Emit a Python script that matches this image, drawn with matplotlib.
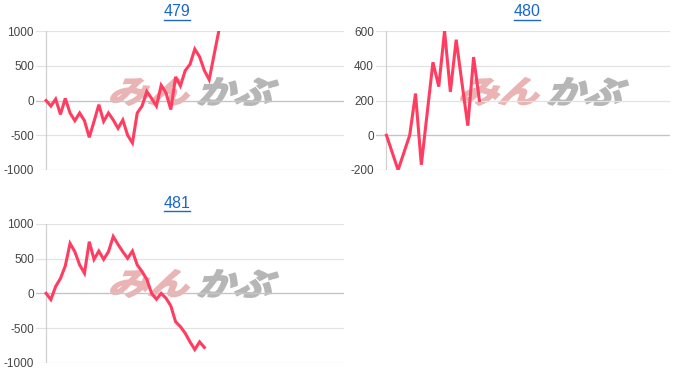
import matplotlib
matplotlib.use("Agg")
from matplotlib import pyplot as plt
from matplotlib.lines import Line2D
from matplotlib.patches import PathPatch
from matplotlib.textpath import TextPath
from matplotlib.font_manager import FontProperties
from matplotlib.transforms import Affine2D, IdentityTransform

plt.rcParams["font.family"] = ["Liberation Sans", "DejaVu Sans"]
plt.rcParams["axes.unicode_minus"] = False

# chart 479
vals_479 = [0, -80, 20, -200, 30, -180, -290, -180, -290, -530,
            -300, -60, -300, -180, -280, -400, -280, -500, -610, -180,
            -80, 130, 30, -80, 220, 110, -130, 340, 210, 430,
            520, 740, 630, 430, 300, 650, 1000]
ticks_479 = [-1000, -500, 0, 500, 1000]

# chart 480
vals_480 = [0, -100, -200, -100, 0, 240, -170, 125, 420, 280,
            600, 250, 550, 300, 55, 450, 200]
ticks_480 = [-200, 0, 200, 400, 600]

# chart 481
vals_481 = [0, -90, 100, 215, 395, 720, 600, 410, 290, 745,
            490, 610, 490, 600, 820, 705, 600, 505, 610, 410,
            315, 200, 0, -85, 0, -70, -180, -410, -480, -575,
            -700, -810, -700, -780]
ticks_481 = [-1000, -500, 0, 500, 1000]

W, H = 700, 386
LINE = "#ff3d60"
TITLE = "#1a66cc"
WM_FONT = FontProperties(family="Noto Sans CJK JP", weight="bold")

fig = plt.figure(figsize=(W / 100, H / 100), dpi=100)
renderer = fig.canvas.get_renderer()


def logo_text(s, box, color):
    """Slanted text squeezed into box=(x0, top, x1, bottom) in pixels from top-left."""
    x0, top, x1, bottom = box
    path = TextPath((0, 0), s, size=30, prop=WM_FONT)
    path = Affine2D().skew_deg(18, 0).transform_path(path)
    ext = path.get_extents()
    tr = (Affine2D()
          .translate(-ext.x0, -ext.y0)
          .scale((x1 - x0) / ext.width, (bottom - top) / ext.height)
          .translate(x0, H - bottom))
    patch = PathPatch(tr.transform_path(path), facecolor=color, edgecolor=color,
                      lw=1.4, transform=IdentityTransform(), zorder=1)
    fig.add_artist(patch)


# (title, values, ticks, xlim, container x0, container y0, axes box in px)
panels = [
    ("479", vals_479, ticks_479, (-2.1, 62.1), 0, 0, (36, 31, 344, 170)),
    ("480", vals_480, ticks_480, (-1.8, 48.8), 350, 0, (376, 31, 670, 170)),
    ("481", vals_481, ticks_481, (-2.1, 62.1), 0, 192, (36, 224, 344, 362.7)),
]

for title, vals, ticks, xlim, cx, cy, (l, t, r, b) in panels:
    # watermark behind the chart
    logo_text("みん", (cx + 111, cy + 78, cx + 189, cy + 105), "#eab4b4")
    logo_text("かぶ", (cx + 198, cy + 78, cx + 278, cy + 105), "#b6b6b6")

    ax = fig.add_axes([l / W, 1 - b / H, (r - l) / W, (b - t) / H])
    ax.patch.set_alpha(0)
    ax.set_zorder(2)
    ax.plot(range(len(vals)), vals, color=LINE, lw=2.2, zorder=5,
            solid_joinstyle="miter")
    ax.set_xlim(*xlim)
    ax.set_ylim(ticks[0], ticks[-1])
    ax.set_yticks(ticks)
    ax.set_yticklabels([str(v) for v in ticks])
    ax.set_xticks([])
    for s in ax.spines.values():
        s.set_visible(False)
    ax.grid(axis="y", color="#e2e2e2", lw=0.9)
    ax.axhline(0, color="#c4c4c4", lw=0.9, zorder=2)
    ax.axvline(0, color="#d0d0d0", lw=0.9, zorder=2)
    ax.tick_params(axis="y", length=0, pad=1.5, labelsize=8.5, labelcolor="#444444")
    ax.set_axisbelow(True)

    # linked title with underline
    tx, ty = cx + 177, cy + 12
    txt = fig.text(tx / W, 1 - ty / H, title, ha="center", va="center",
                   fontsize=11.5, color=TITLE)
    bb = txt.get_window_extent(renderer)
    uy = 1 - (cy + 19.5) / H
    fig.add_artist(Line2D([bb.x0 / W, bb.x1 / W], [uy, uy],
                          color=TITLE, lw=1.0, transform=fig.transFigure))

fig.savefig("out.png", dpi=100)
